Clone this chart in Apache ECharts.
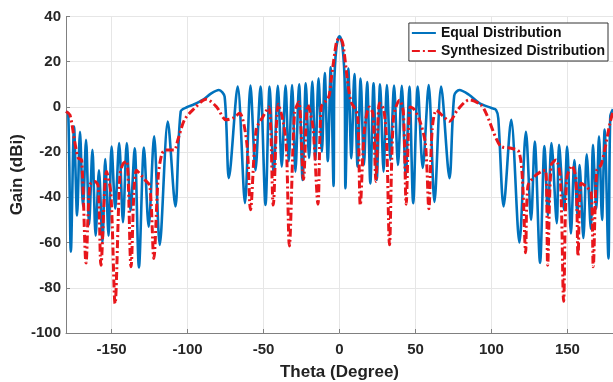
<!DOCTYPE html>
<html>
<head>
<meta charset="utf-8">
<title>Gain vs Theta</title>
<script src="https://cdn.jsdelivr.net/npm/echarts@6.0.0/dist/echarts.min.js"></script>
<style>
  html, body { margin: 0; padding: 0; background: #fff; }
  #main { width: 613px; height: 382px; }
</style>
</head>
<body>
<div id="main"></div>
<script>
// values: [theta (deg), gain (dBi)] at lobe peaks, nulls and shoulders
var equalDist = [
  [-180, -2], [-178.5, -3], [-176.8, -64], [-174.7, -8.7], [-172.7, -48], [-170.8, -11],
  [-168.8, -44], [-166.8, -14.5], [-164.8, -52], [-162.6, -19], [-160.5, -57], [-158.3, -28],
  [-156, -60], [-154.2, -23], [-152, -57], [-150, -17.5], [-147.6, -45], [-145, -16],
  [-142.5, -51], [-140, -16], [-137.5, -46], [-134.8, -18.3], [-132, -71], [-128.7, -18],
  [-125.6, -53], [-122, -13], [-118.3, -61], [-113, -6.5], [-108, -44], [-104.5, -2],
  [-100, 0], [-96.5, 0.9], [-90, 3.1], [-84.4, 6], [-79.4, 7.5], [-75.6, 4.6],
  [-72.8, -31.5], [-67, 9], [-62.2, -42.5], [-58.6, 9.5], [-55.3, -28], [-52, 9],
  [-48.7, -43.4], [-46, 9], [-43.3, -30], [-40.6, 9.3], [-38, -26.4], [-35.5, 9.5],
  [-33.4, -24], [-31.2, 9.7], [-29, -28.6], [-26.6, 10], [-24.3, -32.3], [-22.2, 10.5],
  [-20, -22.6], [-17.9, 11.2], [-15.9, -23.5], [-13.8, 12.7], [-11.6, -19.8], [-9.7, 15],
  [-7.7, -24], [-5.8, 17.5], [-3.9, -35], [-3.5, 8], [-3, 18], [-2, 26.5], [-1, 30],
  [0, 31.2],
  [1, 30], [2, 26.5], [3, 18], [3.5, 8], [3.9, -36], [5.8, 17], [7.8, -22.7], [9.8, 14.5],
  [11.9, -26.4], [13.9, 12.5], [16.1, -25.7], [18.2, 11], [20.3, -33.8], [22.4, 10.5],
  [24.5, -32.3], [26.7, 10], [29, -28.6], [31.2, 9.7], [33.5, -23.5], [35.9, 9.5],
  [38.5, -25.7], [41, 9.3], [43.6, -30.8], [46, 9], [48.5, -42.6], [51.5, 9],
  [54.8, -27], [58.7, 9.7], [62.5, -42], [66.9, 9], [72.4, -31.5], [75.5, 5],
  [78.9, 7.5], [85, 5.5], [92, 1.7], [100, -0.5], [103, -1.3], [104.5, -5],
  [108, -44], [113, -5.7], [118.4, -60], [122.7, -11], [126.1, -50], [128.5, -15.3],
  [132, -69], [134.9, -17.3], [137.2, -48], [139.5, -16], [143, -51.4], [144.5, -16.8],
  [147.8, -45.6], [149.8, -17.5], [152.3, -56], [154.6, -23.5], [156.6, -48], [158, -25.7],
  [160.5, -58], [162.7, -21], [165.4, -54], [166.8, -16.8], [169, -45], [170.8, -13],
  [172.8, -50], [174.5, -10], [177, -67], [178.2, -4.3], [180, -1]
];

var synthDist = [
  [-180, -2], [-177.4, -3.5], [-174.1, -16], [-171.9, -22.7], [-169.7, -23.5], [-166.8, -69],
  [-164.3, -34.5], [-161, -33], [-158.8, -35], [-157, -70], [-153.3, -28.6], [-150.5, -38],
  [-147.7, -87], [-144.5, -30], [-142.3, -25], [-140, -24], [-137.2, -70.7], [-133.6, -28],
  [-128, -32.3], [-124.8, -35], [-122.2, -67], [-119.3, -30.8], [-117, -21], [-114.5, -19],
  [-110.5, -19], [-108.5, -19], [-106.4, -14.6], [-102, -5.7], [-96.5, -1.3], [-87.7, 3.4],
  [-81, 0.1], [-74.6, -5.7], [-70.2, -5], [-65.8, -2.8], [-61, -16], [-58.6, -45.5],
  [-54.8, -10], [-50.4, -4.3], [-46.5, 0], [-43.6, -43.4], [-40.3, 1.2], [-37.3, -5.7],
  [-35, -17.5], [-33, -61.5], [-29.6, -2.8], [-26.8, 2.2], [-23.7, -32], [-20.8, 0.9],
  [-17.5, -8.7], [-14.2, -43], [-12, 0], [-8.5, 3], [-6.8, 5], [-5.5, 12], [-4.4, 17.5],
  [-3, 24.5], [-1.8, 29], [0, 30.5],
  [1.8, 29], [3, 24.5], [4.4, 16.4], [6, 8], [7.7, 2], [9.9, -0.5], [12, -4],
  [13.7, -43.5], [16.4, -10], [19.7, 0], [22, -3], [24, -33], [26.3, 1.7], [29, -1],
  [31, -15], [32.9, -61], [35.5, -5], [39.5, 3], [42, -2], [43.9, -43], [46.5, 0],
  [49, -1], [52.6, -5.7], [56.5, -16], [58.8, -45], [61, -10], [63.8, -1.5], [68, -4],
  [72.4, -6.3], [78, -1], [85.5, 3.1], [93, 0.9], [96.5, -2.8], [103, -13.8],
  [106.4, -17.5], [113, -18.3], [118, -19.8], [120.4, -32], [122.5, -64.5], [124, -35],
  [128.3, -30.8], [132.7, -28.6], [135.6, -28], [137, -70], [139.3, -25.7], [142.5, -23.5],
  [145.4, -32], [147.5, -86], [149.5, -32], [153, -26], [155.6, -32], [157, -66],
  [159, -33.8], [162.3, -35.2], [165.6, -38], [167, -70.7], [169.3, -27.9], [172.1, -25.7],
  [175, -17.5], [178, -7.2], [180, -2]
];

var thetaTicks = [-150, -100, -50, 0, 50, 100, 150];

var font = 'Arial, "Liberation Sans", Helvetica, sans-serif';
var chart = echarts.init(document.getElementById('main'));

chart.setOption({
  animation: false,
  backgroundColor: '#fff',
  grid: { left: 66, right: 0, top: 16.5, bottom: 49, containLabel: false, outerBoundsMode: 'none' },
  legend: {
    orient: 'vertical',
    right: 5,
    top: 23,
    itemWidth: 24,
    itemHeight: 14,
    itemGap: 4,
    padding: [3, 3, 3, 2],
    backgroundColor: '#fff',
    borderColor: '#333',
    borderWidth: 1,
    borderRadius: 0,
    itemStyle: { opacity: 0 },
    textStyle: { fontFamily: font, fontWeight: 'bold', fontSize: 14, color: '#111' },
    data: ['Equal Distribution', 'Synthesized Distribution']
  },
  xAxis: {
    type: 'value',
    min: -180,
    max: 180,
    name: 'Theta (Degree)',
    nameLocation: 'middle',
    nameGap: 31,
    nameMoveOverlap: false,
    nameTextStyle: { fontFamily: font, fontWeight: 'bold', fontSize: 17, color: '#222' },
    axisLine: { show: true, onZero: false, lineStyle: { color: '#808080', width: 1 } },
    axisTick: { show: true, inside: true, length: 4, customValues: thetaTicks,
      lineStyle: { color: '#808080' } },
    axisLabel: { customValues: thetaTicks, margin: 9, fontFamily: font, fontWeight: 'bold',
      fontSize: 15, color: '#262626' },
    splitLine: { show: true, lineStyle: { color: '#e6e6e6', width: 1 } }
  },
  yAxis: {
    type: 'value',
    min: -100,
    max: 40,
    interval: 20,
    name: 'Gain (dBi)',
    nameLocation: 'middle',
    nameGap: 40,
    nameMoveOverlap: false,
    nameTextStyle: { fontFamily: font, fontWeight: 'bold', fontSize: 17, color: '#222' },
    axisLine: { show: true, onZero: false, lineStyle: { color: '#808080', width: 1 } },
    axisTick: { show: true, inside: true, length: 4, lineStyle: { color: '#808080' } },
    axisLabel: { margin: 5, fontFamily: font, fontWeight: 'bold', fontSize: 15, color: '#262626' },
    splitLine: { show: true, lineStyle: { color: '#e6e6e6', width: 1 } }
  },
  series: [
    {
      name: 'Equal Distribution',
      type: 'line',
      data: equalDist,
      symbol: 'none',
      smooth: 0.3,
      lineStyle: { color: '#0072BD', width: 2.6 },
      itemStyle: { color: '#0072BD' },
      z: 2
    },
    {
      name: 'Synthesized Distribution',
      type: 'line',
      data: synthDist,
      symbol: 'none',
      smooth: 0.3,
      lineStyle: { color: '#E8161B', width: 3, type: [8, 3, 2, 3] },
      itemStyle: { color: '#E8161B' },
      z: 3
    }
  ]
});
</script>
</body>
</html>
